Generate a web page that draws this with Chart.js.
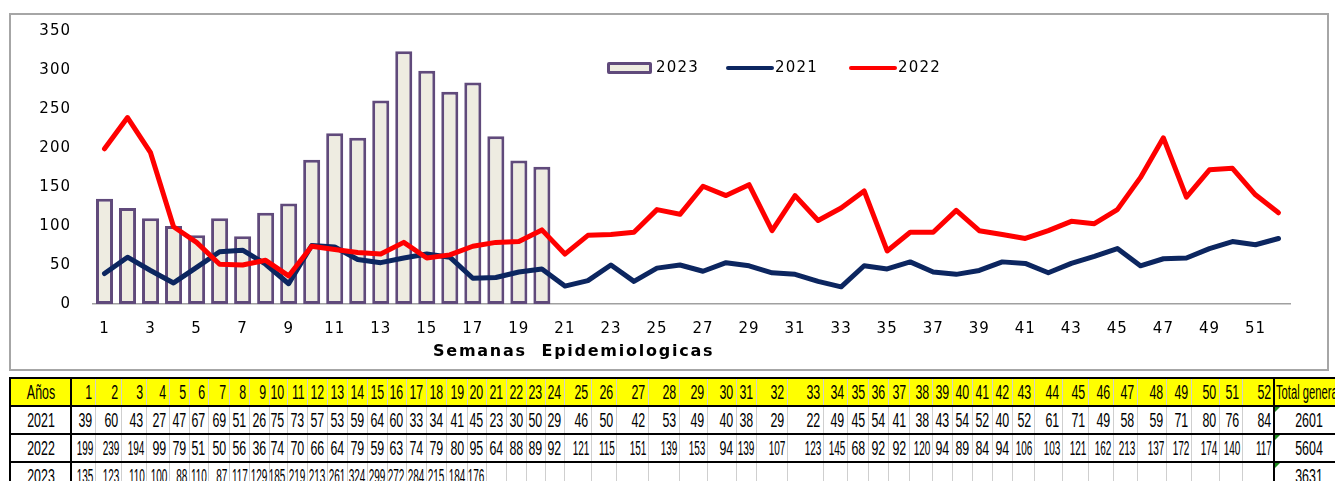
<!DOCTYPE html>
<html>
<head>
<meta charset="utf-8">
<script src="https://cdn.jsdelivr.net/npm/chart.js@4.4.1/dist/chart.umd.min.js"></script>
<style>
    body { margin: 0; background: #fff; width: 1335px; height: 481px; overflow: hidden; position: relative; }
    #frame { position: absolute; left: 9px; top: 13px; width: 1316px; height: 354px; border: 2px solid #a6a6a6; }
    #chartCanvas { position: absolute; left: 0; top: 0; }
    #xTitle { position: absolute; left: 433px; top: 341px; font: bold 16px "DejaVu Sans"; letter-spacing: 1.75px; white-space: pre; color: #000; }
    #legend { position: absolute; left: 607px; top: 58px; font: 15px "DejaVu Sans"; letter-spacing: 1.2px; color: #000; }
    #legend .item { position: absolute; top: 0; white-space: nowrap; }
    #legend .swatch { position: absolute; box-sizing: border-box; }
    #dataTable { position: absolute; left: 9px; top: 377px; width: 1334px; border-collapse: collapse; table-layout: fixed; font-family: "Liberation Sans Narrow", "Liberation Sans"; font-size: 20px; color: #000; }
    #dataTable td { border: 1px solid #cfcfcf; padding: 0; height: 26px; position: relative; white-space: nowrap; }
    #dataTable tr { border-top: 2px solid #000; }
    #dataTable tr.head td { background: #ffff00; border-top: 2px solid #000; border-bottom: 2px solid #000; }
    #dataTable td.first { border-left: 2px solid #000; border-right: 2px solid #000; }
    #dataTable td.total { border-left: 2px solid #000; overflow: hidden; }
    #dataTable td .flag { position: absolute; left: 0; top: 0; width: 0; height: 0; border-top: 5px solid #1e8c1e; border-right: 5px solid transparent; }
    .sq { position: absolute; top: 0; line-height: 26px; right: 2px; transform: scaleX(0.62); transform-origin: right center; }
    .sq.small { right: 1px; transform: scaleX(0.5); }
    td.first .sq, td.total .sq { right: auto; left: 50%; transform: translateX(-50%) scaleX(0.62); transform-origin: center center; }
    tr.head td.total .sq { left: 1px; transform: scaleX(0.56); transform-origin: left center; }
</style>
</head>
<body>
<div id="frame"></div>
<canvas id="chartCanvas" width="1335" height="372"></canvas>
<div id="xTitle">Semanas  Epidemiologicas</div>
<div id="legend"></div>
<table id="dataTable"></table>

<script>
// semanas epidemiologicas 1..52
const weeks = Array.from({ length: 52 }, (_, i) => String(i + 1));

const cases2021 = [39, 60, 43, 27, 47, 67, 69, 51, 26, 75, 73, 57, 53, 59, 64, 60, 33, 34, 41, 45,
    23, 30, 50, 29, 46, 50, 42, 53, 49, 40, 38, 29, 22, 49, 45, 54, 41, 38, 43, 54,
    52, 40, 52, 61, 71, 49, 58, 59, 71, 80, 76, 84];
const cases2022 = [199, 239, 194, 99, 79, 51, 50, 56, 36, 74, 70, 66, 64, 79, 59, 63, 74, 79, 80, 95,
    64, 88, 89, 92, 121, 115, 151, 139, 153, 94, 139, 107, 123, 145, 68, 92, 92, 120, 94, 89,
    84, 94, 106, 103, 121, 162, 213, 137, 172, 174, 140, 117];
const cases2023 = [135, 123, 110, 100, 88, 110, 87, 117, 129, 185, 219, 213, 261, 324, 299, 272, 284, 215, 184, 176];

// totales tal como aparecen en la tabla
const yearLabels = ['2021', '2022', '2023'];
const totals = [2601, 5604, 3631];

const yTicks = [0, 50, 100, 150, 200, 250, 300, 350];

// anchos de columna de la tabla (px)
const colWidths = [24, 26, 25, 23, 20, 19, 21, 20, 20, 18, 20, 20, 20, 20, 20, 19, 20, 20, 21, 19,
    20, 20, 19, 19, 27, 25, 32, 31, 28, 29, 20, 31, 36, 24, 21, 20, 21, 23, 20, 20,
    20, 20, 22, 28, 26, 25, 24, 29, 25, 28, 23, 32];

const letterSpacingPlugin = {
    id: 'letterSpacing',
    beforeInit(chart) { chart.ctx.letterSpacing = '1px'; },
    beforeDraw(chart) { chart.ctx.letterSpacing = '1px'; }
};

const ctx = document.getElementById('chartCanvas').getContext('2d');
const chart = new Chart(ctx, {
    type: 'bar',
    data: {
        labels: weeks,
        datasets: [
            {
                type: 'bar',
                label: '2023',
                data: cases2023,
                backgroundColor: '#eeece1',
                borderColor: '#604a7b',
                borderWidth: 3,
                borderSkipped: false,
                barPercentage: 0.74,
                categoryPercentage: 1,
                order: 3
            },
            {
                type: 'line',
                label: '2021',
                data: cases2021,
                borderColor: '#0c2660',
                borderWidth: 5,
                pointRadius: 0,
                tension: 0,
                borderJoinStyle: 'round',
                borderCapStyle: 'round',
                order: 2
            },
            {
                type: 'line',
                label: '2022',
                data: cases2022,
                borderColor: '#ff0000',
                borderWidth: 5,
                pointRadius: 0,
                tension: 0,
                borderJoinStyle: 'round',
                borderCapStyle: 'round',
                order: 1
            }
        ]
    },
    options: {
        responsive: false,
        animation: false,
        devicePixelRatio: 1,
        layout: { padding: { left: 0, right: 45, top: 30, bottom: 28 } },
        plugins: {
            legend: { display: false },
            tooltip: { enabled: false }
        },
        scales: {
            x: {
                offset: true,
                grid: { display: false, drawTicks: false },
                border: { display: true, color: '#a0a0a0', width: 1.5 },
                ticks: {
                    color: '#000',
                    font: { family: 'DejaVu Sans', size: 15 },
                    padding: 16,
                    autoSkip: false,
                    maxRotation: 0,
                    callback: (val, i) => (i % 2 === 0 ? weeks[i] : '')
                },
                afterFit: (scale) => { scale.height = 40; }
            },
            y: {
                min: 0,
                max: 350,
                grid: { display: false, drawTicks: false },
                border: { display: false },
                afterBuildTicks: (scale) => { scale.ticks = yTicks.map(v => ({ value: v })); },
                ticks: {
                    color: '#000',
                    font: { family: 'DejaVu Sans', size: 15 },
                    padding: 22
                },
                afterFit: (scale) => { scale.width = 93; }
            }
        }
    },
    plugins: [letterSpacingPlugin]
});

// leyenda dentro del grafico
function buildLegend() {
    const legend = document.getElementById('legend');
    const offsets = [0, 119, 242];
    chart.data.datasets.forEach((ds, i) => {
        const item = document.createElement('div');
        item.className = 'item';
        item.style.left = offsets[i] + 'px';
        const sw = document.createElement('div');
        sw.className = 'swatch';
        if (ds.type === 'bar') {
            sw.style.cssText = `left:0;top:4px;width:45px;height:12px;background:${ds.backgroundColor};border:3px solid ${ds.borderColor};border-radius:2px;`;
        } else {
            sw.style.cssText = `left:0;top:8px;width:48px;height:4px;background:${ds.borderColor};border-radius:2px;`;
        }
        const txt = document.createElement('span');
        txt.textContent = ds.label;
        txt.style.cssText = 'position:absolute;left:49px;top:0;';
        item.appendChild(sw);
        item.appendChild(txt);
        legend.appendChild(item);
    });
}
buildLegend();

// tabla de datos debajo del grafico
function buildTable() {
    const table = document.getElementById('dataTable');
    const cg = document.createElement('colgroup');
    [61, ...colWidths, 70].forEach(w => {
        const col = document.createElement('col');
        col.style.width = w + 'px';
        cg.appendChild(col);
    });
    table.appendChild(cg);

    const cell = (text, cls, small) => {
        const td = document.createElement('td');
        if (cls) td.className = cls;
        const s = document.createElement('span');
        s.className = small ? 'sq small' : 'sq';
        s.textContent = text;
        td.appendChild(s);
        return td;
    };
    const head = document.createElement('tr');
    head.className = 'head';
    head.appendChild(cell('Años', 'first'));
    weeks.forEach(wk => head.appendChild(cell(wk, '')));
    head.appendChild(cell('Total genera', 'total'));
    table.appendChild(head);

    [cases2021, cases2022, cases2023].forEach((series, r) => {
        const tr = document.createElement('tr');
        tr.appendChild(cell(yearLabels[r], 'first'));
        weeks.forEach((wk, i) => {
            const v = series[i];
            const txt = v !== undefined ? String(v) : '';
            // el libro comprime el texto de 3 cifras (y toda la fila 2023)
            tr.appendChild(cell(txt, '', txt.length > 2 || r === 2));
        });
        const tot = cell(String(totals[r]), 'total');
        const flag = document.createElement('div');
        flag.className = 'flag';
        tot.appendChild(flag);
        tr.appendChild(tot);
        table.appendChild(tr);
    });
}
buildTable();
</script>
</body>
</html>
